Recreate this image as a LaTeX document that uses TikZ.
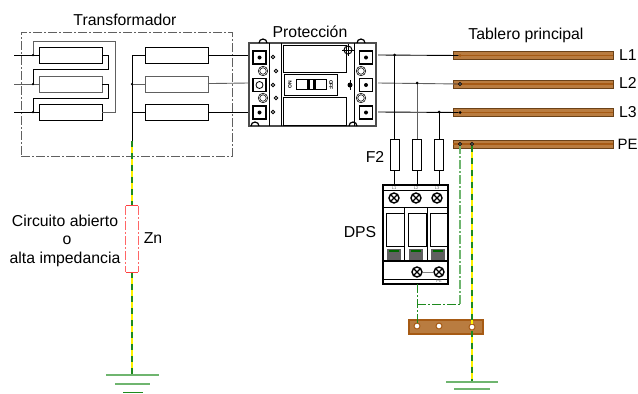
\documentclass[tikz,border=0pt]{standalone}
\usepackage{fontspec}
\setmainfont{Liberation Sans}
\definecolor{cobre}{HTML}{B97C40}
\definecolor{cobreosc}{HTML}{6B4218}
\definecolor{cobremed}{HTML}{A65A14}
\definecolor{tierra}{HTML}{1E8A1E}
\definecolor{tierraclara}{HTML}{6FB56F}
\definecolor{gris}{HTML}{606060}
\tikzset{
    coil/.style={draw,line width=0.85pt,minimum width=63pt,minimum height=16pt,inner sep=0pt,outer sep=0pt},
    bus/.style={draw=cobreosc,fill=cobre,line width=1pt,minimum width=160pt,minimum height=8pt,inner sep=0pt,outer sep=0pt},
    fuse/.style={draw,line width=0.7pt,minimum width=9pt,minimum height=31pt,inner sep=0pt,outer sep=0pt},
    box/.style={draw,line width=0.9pt,inner sep=0pt,outer sep=0pt},
    term/.style={draw,line width=1.1pt,fill=white,minimum width=13pt,minimum height=13pt,inner sep=0pt,outer sep=0pt},
    stud/.style={circle,fill=black,minimum size=4pt,inner sep=0pt},
    washer/.style={circle,draw,line width=0.7pt,minimum size=8pt,inner sep=0pt,double,double distance=0.6pt},
    hole/.style={circle,draw,line width=0.8pt,fill=white,minimum size=3.5pt,inner sep=0pt},
    screw/.style={circle,draw,line width=1.4pt,minimum size=10pt,inner sep=0pt,
        path picture={\draw[line width=1.1pt] (path picture bounding box.north west) -- (path picture bounding box.south east)
            (path picture bounding box.north east) -- (path picture bounding box.south west);}},
    lbl/.style={font=\fontsize{15.8}{16}\selectfont,inner sep=0pt},
    tiny/.style={font=\fontsize{4}{4}\selectfont,text=gris,inner sep=0pt},
    wire/.style={line width=0.9pt},
    pe/.style={line width=2.2pt,draw=tierra,dash pattern=on 6pt off 6pt,preaction={draw=yellow,solid,line width=2.2pt}},
    pedash/.style={line width=1pt,draw=tierra,dash pattern=on 9pt off 2pt on 2pt off 2pt},
    earth/.style={line width=1.1pt,draw=tierraclara},
}
\begin{document}
\begin{tikzpicture}[x=1pt,y=-1pt]
    \useasboundingbox (0,0) rectangle (638,394);

    % transformador
    \node[draw=gris,line width=1pt,dash pattern=on 9pt off 2pt on 2pt off 2pt,minimum width=211pt,minimum height=124pt,inner sep=0pt] (TR) at (126.5,94) {};
    \node[lbl] (TRT) at (125,20) {Transformador};

    \node[coil] (P1) at (70.5,55) {};
    \node[coil,draw=gris] (P2) at (70.5,84) {};
    \node[coil] (P3) at (70.5,112) {};
    \node[coil] (S1) at (176.5,55) {};
    \node[coil,draw=gris] (S2) at (176.5,84) {};
    \node[coil] (S3) at (176.5,112) {};

    \coordinate (IN1) at (14,55);
    \coordinate (IN2) at (14,84);
    \coordinate (IN3) at (14,112);
    \coordinate (NT) at (132,55);
    \coordinate (NM) at (132,84);
    \coordinate (NB) at (132,112);
    \coordinate (NE) at (132,141);

    \draw[wire] (IN1) -- (P1);
    \draw[wire,gris] (IN2) -- (P2);
    \draw[wire] (IN3) -- (P3);
    \draw[wire,gris] (33,55) -- (33,41) -- (115,41) -- (115,112) -- (P3);
    \draw[wire] (P1) -- (108,55) -- (108,69) -- (33,69) -- (33,84);
    \draw[wire] (P2) -- (108,84) -- (108,98) -- (33,98) -- (33,112);
    \draw[wire] (NT) -- (NE);
    \draw[wire] (NT) -- (S1);
    \draw[wire,gris] (NM) -- (S2);
    \draw[wire] (NB) -- (S3);
    \node[stud,minimum size=2.5pt] (D1) at (33,55) {};
    \node[stud,minimum size=2.5pt] (D2) at (33,84) {};
    \node[stud,minimum size=2.5pt] (D3) at (33,112) {};
    \node[stud,minimum size=2.5pt] (D4) at (132,84) {};

    % proteccion
    \node[box,draw=black!70,line width=1.2pt,minimum width=127pt,minimum height=83pt] (BRK) at (312.5,84.5) {};
    \node[lbl] (BRKT) at (310,32) {Protección};
    \draw[line width=1pt] (269,43) -- (269,126);
    \draw[line width=1pt] (281,43) -- (281,126);
    \draw[line width=1pt] (354,43) -- (354,126);
    \draw[line width=1.2pt] (259,43) arc[start angle=180,end angle=0,radius=4pt];
    \draw[line width=1.2pt] (259,126) arc[start angle=180,end angle=360,radius=-4pt];
    \draw[line width=1.2pt] (357,43) arc[start angle=180,end angle=0,radius=4pt];
    \draw[line width=1.2pt] (357,126) arc[start angle=180,end angle=360,radius=-4pt];
    \node[box,minimum width=63pt,minimum height=27pt] (WT) at (314.5,58.5) {};
    \node[box,minimum width=63pt,minimum height=28pt] (WB) at (314.5,111) {};
    \node[box,minimum width=53pt,minimum height=21pt] (HB) at (310.5,84.5) {};
    \node[box,minimum width=30pt,minimum height=10pt] (HD) at (311,84) {};
    \fill (307,79) rectangle (310,89);
    \fill (313,79) rectangle (316,89);
    \node[font=\fontsize{5}{5}\selectfont\bfseries,rotate=90,inner sep=0pt] (ON) at (290,85) {ON};
    \node[font=\fontsize{5}{5}\selectfont\bfseries,rotate=-90,inner sep=0pt] (OFF) at (331,85) {OFF};

    \node[term] (A1) at (259.5,57.5) {};
    \node[term] (A2) at (259.5,85) {};
    \node[term] (A3) at (259.5,112.5) {};
    \node[term] (B1) at (366,57.5) {};
    \node[term] (B2) at (366,85) {};
    \node[term] (B3) at (366,112.5) {};
    \node[stud] (A1C) at (A1) {};
    \node[hole,minimum size=7pt] (A2C) at (A2) {};
    \node[stud] (A3C) at (A3) {};
    \node[stud] (B1C) at (B1) {};
    \node[stud] (B2C) at (B2) {};
    \node[stud] (B3C) at (B3) {};
    \node[washer] (W1) at (263,71) {};
    \node[washer] (W2) at (263,98) {};
    \node[washer] (W3) at (361,71) {};
    \node[washer] (W4) at (361,98) {};
    \node[hole] (H1) at (273,57) {};
    \node[hole] (H2) at (276,71) {};
    \node[hole] (H3) at (273,85) {};
    \node[hole] (H4) at (276,98) {};
    \node[hole] (H5) at (273,112) {};
    \node[circle,draw,line width=1pt,minimum size=8pt,inner sep=0pt] (T1) at (348,50) {};
    \draw[line width=1pt] (348,44) -- (348,56) (342,50) -- (354,50);
    \node[stud,minimum size=5pt] (T2) at (350,85) {};
    \draw[line width=0.8pt] (350,80) -- (350,90);

    \coordinate (AL1) at (248,55);
    \coordinate (AL2) at (248,83);
    \coordinate (AL3) at (248,112);
    \coordinate (BR1) at (378,55);
    \coordinate (BR2) at (378,83);
    \coordinate (BR3) at (378,112);
    \draw[wire] (S1) -- (AL1);
    \draw[wire,gris] (S2) -- (AL2);
    \draw[wire] (S3) -- (AL3);

    % tablero
    \node[lbl] (TBT) at (526,35) {Tablero principal};
    \node[bus] (L1) at (533,55.5) {};
    \node[bus] (L2) at (533,84) {};
    \node[bus] (L3) at (533,112.5) {};
    \node[bus] (PE) at (533,144) {};
    \draw[cobremed,line width=1.5pt] (L1.west) -- (L1.east);
    \draw[cobremed,line width=1.5pt] (L2.west) -- (L2.east);
    \draw[cobremed,line width=1.5pt] (L3.west) -- (L3.east);
    \draw[cobremed,line width=1.5pt] (PE.west) -- (PE.east);
    \node[lbl,anchor=west] (L1T) at (619,55) {L1};
    \node[lbl,anchor=west] (L2T) at (619,83) {L2};
    \node[lbl,anchor=west] (L3T) at (619,112) {L3};
    \node[lbl,anchor=west,font=\fontsize{15}{15}\selectfont] (PET) at (617.5,144) {PE};

    \node[stud,minimum size=3pt,fill=cobremed] (C1) at (460,55.5) {};
    \node[hole,minimum size=3pt] (C2) at (460,84) {};
    \node[stud,minimum size=3pt] (C3) at (460,112.5) {};
    \node[hole,minimum size=3pt] (C4) at (460,144) {};
    \node[hole,minimum size=3pt] (C5) at (472,144) {};
    \draw[wire] (BR1) -- (C1);
    \draw[wire,gris] (BR2) -- (C2);
    \draw[wire] (BR3) -- (C3);

    % fusibles y DPS
    \node[lbl] (F2T) at (375,157) {F2};
    \node[fuse] (F1) at (394.5,154.5) {};
    \node[fuse] (F2) at (417,154.5) {};
    \node[fuse] (F3) at (439,154.5) {};
    \coordinate (V1) at (394.5,55);
    \coordinate (V2) at (417,83);
    \coordinate (V3) at (439,112);

    \node[lbl] (DPST) at (360,232) {DPS};
    \node[box,line width=1.1pt,minimum width=65pt,minimum height=99pt] (DPS) at (415.5,234.5) {};
    \draw[line width=0.9pt] (383,190) -- (448,190);
    \draw[line width=0.9pt] (383,207) -- (448,207);
    \draw[line width=0.9pt] (404.5,207) -- (404.5,261);
    \draw[line width=0.9pt] (427,207) -- (427,261);
    \draw[line width=0.7pt] (383,279) -- (448,279);
    \draw[line width=2.4pt] (383,261) -- (448,261);
    \node[tiny] (TL1) at (394,188) {L1};
    \node[tiny] (TL2) at (416,188) {L2};
    \node[tiny] (TL3) at (437,188) {L3};
    \node[tiny] (TPE) at (439,281.5) {PE};
    \node[screw] (X1) at (394,198) {};
    \node[screw] (X2) at (416,198) {};
    \node[screw] (X3) at (437,198) {};
    \node[screw] (X4) at (417,272) {};
    \node[screw] (X5) at (439,272) {};
    \node[box,minimum width=18pt,minimum height=33pt] (M1) at (395,229.5) {};
    \node[box,minimum width=18pt,minimum height=33pt] (M2) at (417,229.5) {};
    \node[box,minimum width=18pt,minimum height=33pt] (M3) at (439,229.5) {};
    \node[fill=gris,minimum width=14pt,minimum height=11pt,inner sep=0pt] (G1) at (394,254.5) {};
    \node[fill=gris,minimum width=14pt,minimum height=11pt,inner sep=0pt] (G2) at (416,254.5) {};
    \node[fill=gris,minimum width=14pt,minimum height=11pt,inner sep=0pt] (G3) at (437.5,254.5) {};
    \fill[green!40!black] (389,249.5) rectangle (399,251.5);
    \fill[green!40!black] (411,249.5) rectangle (421,251.5);
    \fill[green!40!black] (433,249.5) rectangle (443,251.5);
    \draw[wire,gris!80] (X4) -- (X5);

    \draw[wire] (V1) -- (F1);
    \draw[wire,gris] (V2) -- (F2);
    \draw[wire] (V3) -- (F3);
    \draw[wire] (F1) -- (394.5,185);
    \draw[wire] (F2) -- (417,185);
    \draw[wire] (F3) -- (439,185);
    \node[stud,minimum size=3pt] (J1) at (V1) {};
    \node[stud,minimum size=3pt] (J2) at (V2) {};
    \node[stud,minimum size=3pt] (J3) at (V3) {};

    % barra de tierra
    \node[draw=cobremed,fill=cobre,line width=1.2pt,minimum width=74pt,minimum height=14pt,inner sep=0pt] (BAR) at (446,327) {};
    \node[circle,fill=white,draw=cobremed,line width=1pt,minimum size=6pt,inner sep=0pt] (B1H) at (417,326) {};
    \node[circle,fill=white,draw=cobremed,line width=1pt,minimum size=6pt,inner sep=0pt] (B2H) at (439,326) {};
    \node[circle,fill=white,draw=cobremed,line width=1pt,minimum size=6pt,inner sep=0pt] (B3H) at (472,327) {};

    \coordinate (DB) at (417,284);
    \coordinate (DM) at (417,304);
    \coordinate (DR) at (460,304);
    \draw[pedash] (DB) -- (B1H);
    \draw[pedash] (DM) -- (DR);
    \draw[pedash,tierraclara,line width=1.2pt] (DR) -- (C4);

    % tierras
    \coordinate (GR) at (472,382);
    \draw[pe] (C5) -- (B3H);
    \draw[pe] (B3H) -- (GR);
    \draw[earth] (446,382) -- (498,382);
    \draw[earth] (454,389) -- (490,389);

    \coordinate (GL) at (132,375);
    \node[minimum width=12pt,minimum height=66pt,inner sep=0pt] (ZN) at (132,239) {};
    \draw[pe] (NE) -- (ZN.north);
    \draw[pe] (ZN.south) -- (GL);
    \draw[red!75,line width=1pt] (ZN.north west) -- (ZN.north east);
    \draw[red!75,line width=1pt] (ZN.south west) -- (ZN.south east);
    \draw[red!60,line width=1pt,dash pattern=on 9pt off 2pt on 2pt off 2pt] (ZN.north west) -- (ZN.south west);
    \draw[red!60,line width=1pt,dash pattern=on 9pt off 2pt on 2pt off 2pt] (ZN.north east) -- (ZN.south east);
    \draw[earth] (106,375) -- (159,375);
    \draw[earth] (115,384) -- (150,384);
    \draw[earth,line width=1pt,draw=tierra] (123,392) -- (143,392);

    \node[lbl] (ZNT) at (153,238) {Zn};
    \node[lbl] (TX1) at (65,221) {Circuito abierto};
    \node[lbl] (TX2) at (67,240) {o};
    \node[lbl] (TX3) at (65,259) {alta impedancia};
\end{tikzpicture}
\end{document}
